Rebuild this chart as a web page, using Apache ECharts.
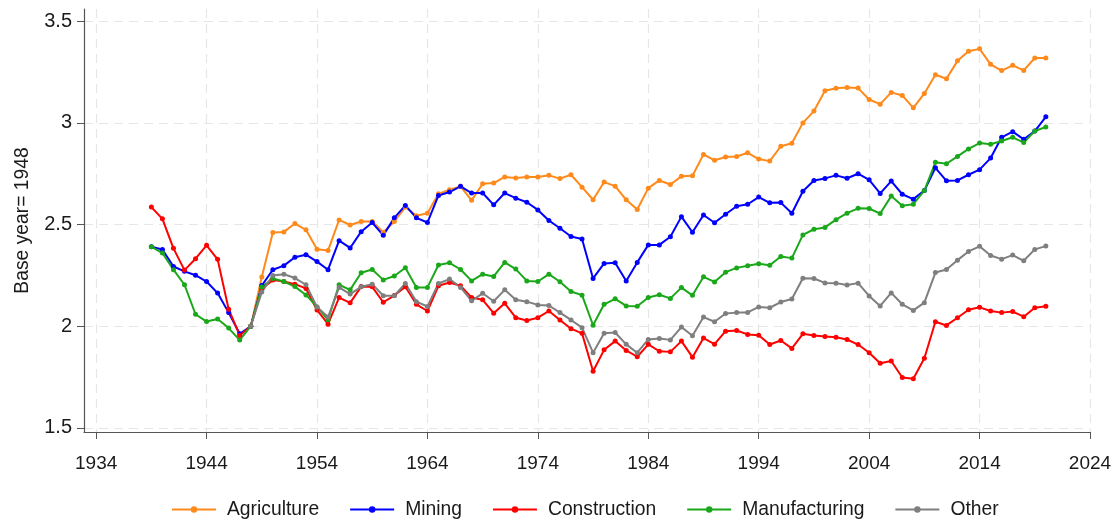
<!DOCTYPE html>
<html>
<head>
<meta charset="utf-8">
<script src="https://cdn.jsdelivr.net/npm/echarts@6/dist/echarts.min.js"></script>
<style>
  html, body { margin: 0; padding: 0; background: #fff; }
  #chart { width: 1117px; height: 522px; }
</style>
</head>
<body>
<div id="chart"></div>
<script>
// Years 1939-2020
const firstYear = 1939;
const lastYear = 2020;

// Index values, base year 1948 = 2 (null = no data)
const agriculture = [
  null, null, null, null, null, null, null, null, null,
  2.000, 2.242, 2.461, 2.464, 2.505, 2.474, 2.379, 2.372, 2.523, 2.498,
  2.515, 2.515, 2.462, 2.515, 2.586, 2.543, 2.556, 2.651, 2.671, 2.688,
  2.619, 2.701, 2.704, 2.734, 2.729, 2.734, 2.734, 2.742, 2.726, 2.745,
  2.684, 2.622, 2.709, 2.689, 2.622, 2.574, 2.679, 2.717, 2.697, 2.737,
  2.740, 2.845, 2.816, 2.832, 2.835, 2.853, 2.822, 2.812, 2.885, 2.900,
  3.000, 3.058, 3.158, 3.170, 3.174, 3.171, 3.115, 3.092, 3.150, 3.135,
  3.074, 3.145, 3.237, 3.217, 3.305, 3.352, 3.364, 3.288, 3.257, 3.283,
  3.258, 3.319, 3.319
];
const mining = [
  2.391, 2.377, 2.294, 2.270, 2.251, 2.220, 2.163, 2.067, 1.963,
  2.000, 2.200, 2.278, 2.298, 2.339, 2.352, 2.318, 2.278, 2.421, 2.385,
  2.465, 2.510, 2.447, 2.533, 2.594, 2.533, 2.510, 2.643, 2.660, 2.688,
  2.655, 2.655, 2.597, 2.655, 2.630, 2.610, 2.572, 2.520, 2.482, 2.441,
  2.429, 2.235, 2.309, 2.312, 2.222, 2.314, 2.400, 2.400, 2.440, 2.539,
  2.462, 2.547, 2.509, 2.551, 2.590, 2.600, 2.635, 2.607, 2.608, 2.556,
  2.664, 2.717, 2.727, 2.742, 2.728, 2.750, 2.720, 2.653, 2.714, 2.649,
  2.625, 2.667, 2.779, 2.715, 2.717, 2.745, 2.770, 2.827, 2.929, 2.957,
  2.919, 2.960, 3.030
];
const construction = [
  2.586, 2.528, 2.383, 2.276, 2.332, 2.398, 2.329, 2.084, 1.955,
  2.000, 2.185, 2.227, 2.220, 2.207, 2.186, 2.080, 2.010, 2.141, 2.115,
  2.195, 2.194, 2.118, 2.151, 2.194, 2.108, 2.075, 2.199, 2.215, 2.199,
  2.141, 2.130, 2.064, 2.113, 2.042, 2.028, 2.042, 2.075, 2.031, 1.988,
  1.965, 1.779, 1.884, 1.927, 1.881, 1.850, 1.911, 1.877, 1.874, 1.927,
  1.848, 1.942, 1.912, 1.976, 1.979, 1.960, 1.956, 1.910, 1.930, 1.891,
  1.963, 1.955, 1.950, 1.946, 1.935, 1.910, 1.870, 1.818, 1.829, 1.748,
  1.742, 1.843, 2.022, 2.004, 2.042, 2.081, 2.093, 2.075, 2.067, 2.072,
  2.047, 2.091, 2.098
];
const manufacturing = [
  2.391, 2.360, 2.278, 2.204, 2.059, 2.023, 2.036, 1.991, 1.932,
  2.000, 2.193, 2.235, 2.220, 2.195, 2.154, 2.095, 2.032, 2.204, 2.179,
  2.263, 2.279, 2.228, 2.247, 2.288, 2.191, 2.191, 2.301, 2.312, 2.279,
  2.223, 2.256, 2.245, 2.314, 2.281, 2.223, 2.220, 2.256, 2.219, 2.171,
  2.153, 2.005, 2.108, 2.135, 2.100, 2.098, 2.141, 2.155, 2.137, 2.190,
  2.152, 2.243, 2.218, 2.266, 2.287, 2.297, 2.307, 2.300, 2.343, 2.335,
  2.449, 2.477, 2.486, 2.524, 2.556, 2.580, 2.579, 2.554, 2.640, 2.593,
  2.600, 2.667, 2.806, 2.799, 2.835, 2.872, 2.901, 2.895, 2.911, 2.929,
  2.903, 2.960, 2.980
];
const other = [
  null, null, null, null, null, null, null, null, null,
  2.000, 2.168, 2.249, 2.256, 2.237, 2.204, 2.095, 2.045, 2.191, 2.158,
  2.194, 2.207, 2.150, 2.150, 2.210, 2.121, 2.097, 2.210, 2.232, 2.191,
  2.125, 2.162, 2.123, 2.179, 2.130, 2.121, 2.105, 2.102, 2.067, 2.031,
  1.993, 1.870, 1.965, 1.969, 1.911, 1.870, 1.935, 1.940, 1.933, 1.996,
  1.953, 2.045, 2.022, 2.063, 2.067, 2.068, 2.095, 2.091, 2.119, 2.134,
  2.236, 2.235, 2.213, 2.212, 2.203, 2.212, 2.149, 2.100, 2.164, 2.108,
  2.078, 2.116, 2.264, 2.279, 2.325, 2.368, 2.393, 2.348, 2.330, 2.350,
  2.322, 2.378, 2.394
];

// Axis ticks
const xTicks = [1934, 1944, 1954, 1964, 1974, 1984, 1994, 2004, 2014, 2024];
const yTicks = [1.5, 2, 2.5, 3, 3.5];

const seriesNames = ['Agriculture', 'Mining', 'Construction', 'Manufacturing', 'Other'];
const seriesValues = [agriculture, mining, construction, manufacturing, other];
const seriesColors = ['#ff8a1c', '#0000ff', '#ff0000', '#1aa81a', '#7f7f7f'];

const years = [];
for (let y = firstYear; y <= lastYear; y++) years.push(y);

function pairs(values) {
  return years.map((yr, i) => [yr, values[i]]);
}

const gridLine = { show: true, lineStyle: { color: '#e6e6e6', width: 1.2, type: [9, 6] } };
const fontFamily = 'Liberation Sans, Arial, sans-serif';
const textColor = '#1a1a1a';

const chart = echarts.init(document.getElementById('chart'), null, { renderer: 'canvas' });
chart.setOption({
  animation: false,
  backgroundColor: '#ffffff',
  grid: { left: 84, right: 27, top: 9, bottom: 90, containLabel: false },
  legend: {
    top: 495,
    left: 166,
    itemWidth: 44,
    itemHeight: 8,
    itemGap: 30,
    textStyle: { fontFamily: fontFamily, fontSize: 19.3, color: textColor, padding: [0, 0, 0, 6] },
    data: seriesNames
  },
  xAxis: {
    type: 'value',
    min: 1932.9,
    max: 2024,
    axisLine: { show: true, lineStyle: { color: '#555', width: 1.2 } },
    axisTick: { show: true, length: 7, lineStyle: { color: '#555' }, customValues: xTicks },
    axisLabel: {
      customValues: xTicks,
      formatter: v => String(v),
      fontFamily: fontFamily, fontSize: 19, color: textColor, margin: 22
    },
    splitLine: gridLine
  },
  yAxis: {
    type: 'value',
    min: 1.48,
    max: 3.56,
    name: 'Base year= 1948',
    nameLocation: 'middle',
    nameGap: 52,
    nameRotate: 90,
    nameTextStyle: { fontFamily: fontFamily, fontSize: 19.3, color: textColor },
    axisLine: { show: true, lineStyle: { color: '#555', width: 1.2 } },
    axisTick: { show: true, length: 7, lineStyle: { color: '#555' }, customValues: yTicks },
    axisLabel: {
      customValues: yTicks,
      formatter: v => String(v),
      fontFamily: fontFamily, fontSize: 20, color: textColor, margin: 12
    },
    splitLine: gridLine
  },
  series: seriesNames.map((name, i) => ({
    name: name,
    type: 'line',
    data: pairs(seriesValues[i]),
    color: seriesColors[i],
    symbol: 'circle',
    symbolSize: 5,
    showSymbol: true,
    connectNulls: false,
    lineStyle: { width: 2 },
    emphasis: { disabled: true }
  }))
});
</script>
</body>
</html>
